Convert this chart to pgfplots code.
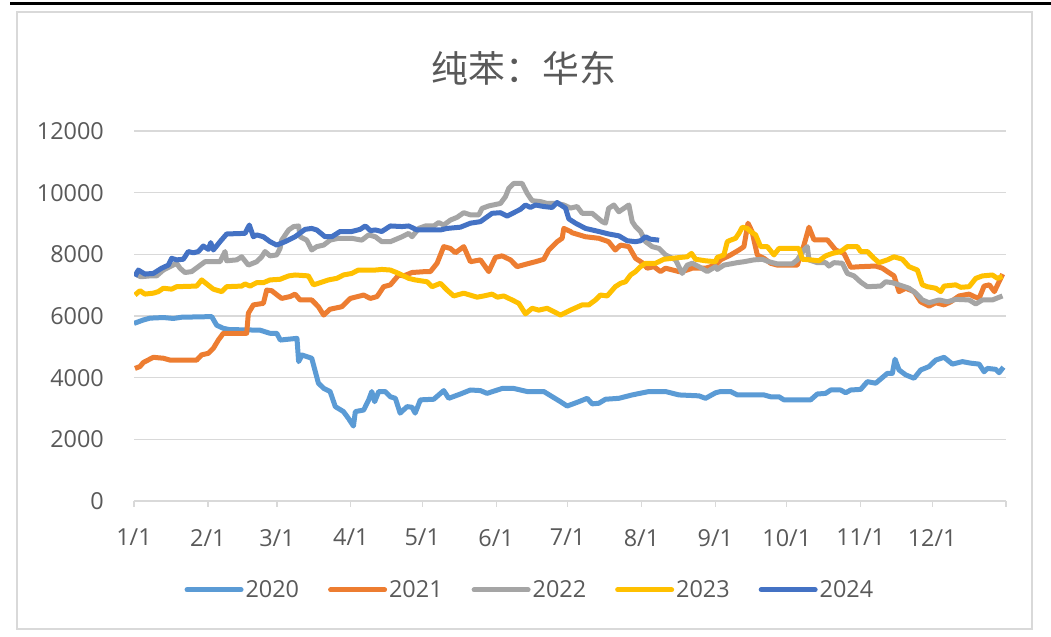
\documentclass[border=0pt]{standalone}
\usepackage{fontspec}
\usepackage{pgfplots}
\pgfplotsset{compat=1.18}
\setmainfont{Open Sans}
\newfontfamily\cjk{Noto Sans CJK SC}
\definecolor{cA}{HTML}{5B9BD5}
\definecolor{cB}{HTML}{ED7D31}
\definecolor{cC}{HTML}{A5A5A5}
\definecolor{cD}{HTML}{FFC000}
\definecolor{cE}{HTML}{4472C4}
\definecolor{txt}{HTML}{595959}
\definecolor{gridc}{HTML}{D9D9D9}
\begin{document}
\begin{tikzpicture}[x=1bp,y=1bp]
\path[use as bounding box] (0,0) rectangle (1051,637);
\fill[white] (0,0) rectangle (1051,637);
\draw[black, line width=3bp] (10,633) -- (1051,633);
\draw[gridc, line width=1.2bp] (17,8) rectangle (1032,625);
\node[text=txt, font=\cjk\fontsize{37}{42}\selectfont] at (524,569) {纯苯：华东};
\begin{axis}[
  at={(134bp,136bp)}, anchor=south west, scale only axis,
  width=872bp, height=370bp,
  xmin=0, xmax=366, ymin=0, ymax=12000,
  xtick={0,31,60,91,121,152,182,213,244,274,305,335,366},
  xticklabels={1/1,2/1,3/1,4/1,5/1,6/1,7/1,8/1,9/1,10/1,11/1,12/1,{}},
  ytick={0,2000,4000,6000,8000,10000,12000},
  scaled y ticks=false,
  axis x line*=bottom, axis y line*=left,
  x axis line style={draw=gridc, line width=1.3bp, -},
  y axis line style={draw=none},
  ymajorgrids, grid style={draw=gridc, line width=1.3bp},
  tick align=outside, major tick length=6bp,
  xtick style={draw=gridc, line width=1.3bp},
  ytick style={draw=none},
  /pgf/number format/assume math mode=true,
  /pgf/number format/1000 sep={},
  ticklabel style={font=\fontsize{23.5}{26}\selectfont, text=txt},
  yticklabel style={inner sep=0pt, xshift=-24bp},
  xticklabel style={inner sep=0pt, yshift=-22bp},
  legend style={at={(axis description cs:0.454,-0.24)}, anchor=center, draw=none, fill=none,
    legend columns=5, font=\fontsize{23.5}{26}\selectfont, text=txt,
    /tikz/every even column/.append style={column sep=27bp},
    /tikz/every odd column/.append style={column sep=0bp}},
  legend image code/.code={\draw[#1, line width=5bp, line cap=round] (0bp,0bp) -- (54bp,0bp);},
  every axis plot/.append style={line width=5bp, line join=round, mark=none},
]
\addplot[cA] coordinates {(0,5760)(3.9,5870)(6.7,5930)(12.3,5950)(16.5,5920)(20,5960)(32.6,5980)(34.7,5700)(37.5,5600)(40,5560)(52.9,5540)(57,5440)(59.9,5440)(61.4,5220)(68.4,5275)(69.1,4520)(70.5,4735)(74.6,4630)(77.4,3820)(79.6,3655)(82.3,3550)(84.5,3060)(87.9,2900)(90,2680)(92.1,2430)(92.9,2900)(96.4,2950)(98.5,3280)(99.8,3550)(101,3220)(102.7,3550)(105.4,3550)(107.6,3380)(109.7,3330)(111.7,2850)(114.6,3060)(116.7,3040)(118,2850)(120.2,3280)(125.8,3300)(130,3580)(132.1,3330)(137,3470)(141.2,3600)(145.4,3580)(148.2,3490)(154.5,3650)(159.4,3650)(165,3550)(172,3550)(179,3220)(181.8,3080)(186.7,3220)(190.2,3330)(192.3,3150)(195.1,3170)(197.9,3300)(203.5,3330)(209.1,3440)(216.1,3550)(223.1,3550)(228.7,3440)(237.1,3410)(239.9,3330)(244.1,3510)(246.2,3550)(250.4,3550)(253.2,3440)(264.4,3440)(267.2,3380)(270.7,3380)(272.8,3280)(284,3280)(286.8,3470)(290.3,3490)(292.4,3600)(296.6,3600)(298.7,3510)(300.8,3600)(305,3620)(307.8,3870)(311.3,3820)(316.2,4140)(318.3,4140)(319.4,4600)(321.1,4250)(323.9,4090)(327.4,3980)(330.2,4250)(333.7,4360)(336.5,4570)(340,4660)(343.5,4440)(347.7,4520)(351.2,4470)(354.7,4440)(356.8,4190)(358.2,4300)(361.7,4270)(363.1,4160)(364.9,4340)};
\addlegendentry{2020}
\addplot[cB] coordinates {(0.4,4300)(2.5,4360)(3.9,4490)(8.1,4660)(12.3,4630)(15.1,4570)(26.3,4570)(28.4,4740)(31.2,4790)(33.3,4950)(35.4,5220)(37.5,5440)(47.3,5440)(48,6090)(50.1,6360)(54.3,6410)(55.7,6840)(57.8,6820)(60.6,6650)(62,6570)(65.5,6630)(67.6,6710)(69.7,6520)(74.6,6520)(77.4,6300)(79.6,6030)(82.3,6220)(87.2,6300)(90.8,6570)(96.4,6680)(99.2,6570)(102,6630)(104.8,6950)(107.6,7010)(111.1,7330)(113.2,7300)(116.7,7410)(122.3,7440)(124.4,7440)(127.2,7710)(130,8250)(132.8,8190)(134.9,8050)(138.4,8250)(141.2,7760)(145.4,7820)(148.9,7440)(151.7,7900)(154.5,7950)(158,7820)(160.8,7600)(165,7690)(168.5,7760)(172,7840)(174.1,8140)(177.6,8410)(179.7,8520)(180.4,8840)(183.2,8740)(183.9,8700)(189.5,8570)(195.1,8520)(199.2,8410)(202,8140)(204.2,8300)(207.7,8250)(210.5,7870)(213.3,7730)(215.4,7550)(218.2,7600)(221,7440)(223.1,7550)(228.7,7440)(230.1,7440)(234.3,7550)(239.9,7550)(244.1,7650)(246.2,7820)(250.4,7980)(253.9,8140)(256,8250)(257.7,9010)(259.4,8740)(261.6,7980)(264.4,7870)(267.2,7710)(270,7650)(278.4,7650)(281.2,8300)(283.3,8880)(285.4,8470)(291,8470)(294.5,8140)(298,8030)(300.8,7580)(305,7600)(311.3,7620)(314.1,7550)(316.2,7440)(319,7300)(321.1,6790)(323.9,6900)(327.4,6790)(330.2,6460)(333.7,6320)(336.5,6430)(340,6360)(342.8,6460)(346.3,6650)(350.5,6710)(352.6,6630)(354.7,6570)(356.8,6970)(359,7010)(361.1,6790)(364.6,7360)};
\addlegendentry{2021}
\addplot[cC] coordinates {(0,7400)(2.5,7280)(3.9,7280)(6.7,7300)(9.5,7300)(12.3,7490)(15.1,7600)(17.9,7710)(19.3,7550)(21.4,7410)(24.2,7440)(27,7600)(29.8,7760)(36.1,7760)(38.2,8090)(38.9,7790)(43.1,7820)(45.2,7920)(48,7650)(51.5,7760)(53.6,7920)(55,8090)(57.1,7950)(59.9,7980)(61.3,8190)(62,8460)(64.9,8790)(67,8900)(69.1,8920)(69.7,8570)(72.5,8460)(74.6,8140)(76.7,8250)(79.6,8300)(82.3,8460)(85.8,8520)(91.4,8520)(95.6,8460)(98.5,8630)(101.3,8570)(104,8410)(107.6,8410)(112.5,8570)(115.3,8680)(116.7,8570)(119.5,8840)(122.3,8920)(125.8,8920)(127.9,9030)(130,8950)(132.8,9110)(135.6,9200)(138.4,9350)(141.2,9280)(144.7,9280)(146.1,9490)(148.9,9570)(153.8,9650)(155.9,9870)(157.3,10140)(159.4,10300)(162.9,10300)(165,9980)(167.1,9740)(170.6,9710)(173.4,9650)(177.6,9650)(180.4,9600)(183.2,9500)(186,9550)(188.1,9330)(192.3,9330)(196.5,9060)(197.9,9010)(199.2,9490)(201.4,9600)(203.5,9380)(205.6,9490)(207.7,9600)(209.1,9060)(210.5,8900)(212.6,8740)(214.7,8410)(217.5,8250)(220.4,8190)(223.1,7980)(227.3,7820)(230.1,7380)(232.2,7650)(234.3,7710)(237.1,7600)(240.6,7440)(244.1,7600)(244.8,7510)(247.6,7650)(250.4,7690)(253.2,7730)(256,7760)(260.2,7820)(263.7,7840)(266.5,7760)(270,7690)(276.3,7690)(278.4,7820)(281.2,8140)(282.6,8250)(283.3,7820)(286.8,7730)(290.3,7730)(291.7,7620)(293.8,7730)(297.3,7710)(299.4,7380)(302.2,7300)(305,7100)(307.8,6950)(313.4,6970)(315.5,7110)(318.3,7080)(321.1,7010)(325.3,6900)(328.1,6740)(330.9,6520)(333.7,6430)(337.9,6520)(341.4,6460)(344.9,6540)(350.5,6520)(353.3,6390)(356.1,6520)(360.3,6520)(364.5,6650)};
\addlegendentry{2022}
\addplot[cD] coordinates {(0.4,6680)(2.5,6820)(4.6,6710)(8.1,6740)(10.2,6790)(12.3,6900)(15.8,6870)(17.9,6950)(26.3,6970)(28.4,7170)(30.5,7040)(33.3,6870)(36.8,6790)(38.9,6950)(45.2,6970)(46.6,7040)(48.7,6970)(51.5,7080)(54.3,7080)(57.1,7170)(61.3,7190)(64.9,7300)(67.6,7330)(73.2,7300)(75.3,7010)(77.4,7060)(81.6,7170)(85.1,7220)(87.9,7330)(91.4,7380)(94.2,7490)(101.3,7490)(104,7510)(107.6,7490)(111.1,7380)(115.3,7220)(118,7170)(123,7110)(125.1,6950)(128.6,7060)(131.4,6840)(134.2,6650)(138.4,6740)(144,6610)(146.8,6650)(150.3,6710)(152.5,6610)(155.2,6650)(158.7,6520)(161.5,6410)(164.3,6070)(167.1,6250)(169.9,6190)(173.4,6250)(176.2,6140)(179,6030)(183.2,6190)(188.1,6360)(190.9,6360)(193.7,6520)(195.8,6680)(198.6,6650)(202,6950)(204.2,7060)(206.3,7110)(208.4,7330)(210.5,7440)(212.6,7600)(214.7,7710)(218.9,7710)(222.4,7840)(225.9,7870)(229.4,7900)(232.2,7920)(234,8030)(235.7,7840)(239.9,7790)(244.1,7760)(244.8,7900)(247.6,7980)(249,8410)(250.4,8460)(252.5,8520)(253.9,8680)(255.3,8880)(257.4,8840)(258.8,8740)(260.9,8630)(263,8250)(265.8,8250)(268.6,7980)(270.7,8190)(279.1,8190)(280.5,7840)(284,7820)(287.5,7790)(290.3,7950)(293.1,8030)(296.6,8090)(299.4,8250)(303.6,8250)(305,8090)(307.8,8090)(310.6,7870)(312.7,7730)(316.2,7820)(319,7920)(322.5,7840)(325.3,7600)(328.8,7490)(330.9,7010)(333,6950)(336.5,6900)(338.6,6790)(340,6970)(344.9,7010)(347,6930)(350.5,6950)(353.3,7220)(356.1,7300)(360.3,7330)(362.4,7220)(364.5,7280)};
\addlegendentry{2023}
\addplot[cE] coordinates {(0.4,7280)(1.8,7490)(4.6,7360)(8.1,7380)(11.6,7550)(14.4,7650)(15.8,7870)(17.9,7820)(20.7,7840)(22.8,8090)(24.9,8050)(27,8090)(29.1,8270)(31.2,8160)(32.2,8380)(33.3,8140)(36.1,8410)(38.9,8660)(46.6,8680)(48.4,8950)(50.1,8570)(51.5,8630)(54.3,8570)(57.1,8410)(59.9,8300)(63.4,8410)(67.6,8570)(71.8,8810)(74.6,8840)(76.7,8790)(80.2,8570)(83,8570)(86.5,8740)(91.4,8740)(94.9,8810)(97.1,8920)(99.2,8770)(101.3,8790)(104,8740)(107.6,8920)(112.5,8900)(115.3,8920)(118.8,8790)(128.6,8790)(131.4,8840)(137,8880)(141.2,9010)(145.4,9060)(150.3,9330)(153.8,9350)(156.6,9240)(159.4,9350)(162.2,9460)(164.3,9600)(166.4,9520)(168.5,9600)(172,9550)(175.5,9520)(177.6,9680)(179.7,9570)(181.1,9500)(182.5,9150)(185.3,9010)(189.5,8840)(195.1,8740)(199.2,8660)(203.5,8600)(207,8440)(210.5,8410)(212.6,8440)(214.7,8570)(216.8,8490)(220.4,8460)};
\addlegendentry{2024}
\end{axis}
\end{tikzpicture}
\end{document}
